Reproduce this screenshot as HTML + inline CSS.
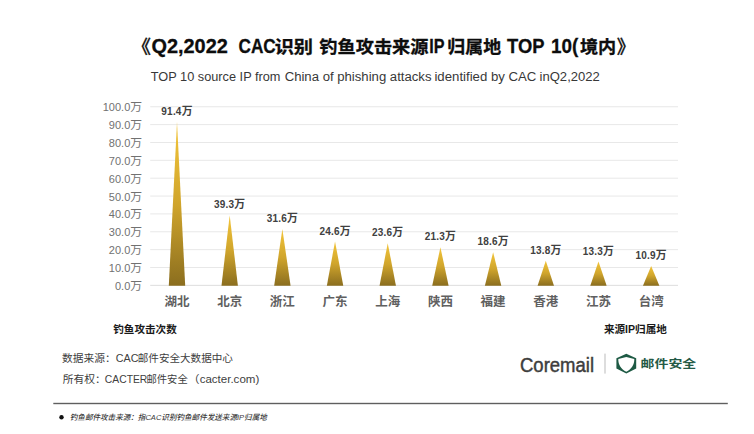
<!DOCTYPE html>
<html><head><meta charset="utf-8">
<style>
html,body{margin:0;padding:0;background:#fff;}
body{width:754px;height:434px;overflow:hidden;position:relative;}
svg{position:absolute;left:0;top:0;}
text{font-family:"Liberation Sans","Noto Sans CJK SC",sans-serif;white-space:pre;}
.t{fill:#0d0d0d;stroke:#0d0d0d;stroke-width:0.3px;}
.st{fill:#383838;}
.yl{font-size:11px;fill:#717171;}
.yw{font-size:11.8px;}
.vl{font-size:10px;font-weight:bold;fill:#404040;letter-spacing:0.2px;}
.vw{font-size:10.8px;}
.xl{font-size:12.5px;font-weight:bold;fill:#606060;}
.ax{font-size:10.5px;font-weight:bold;fill:#1a1a1a;}
.src{fill:#404040;}
.cm{font-size:20px;fill:#3d3d3d;stroke:#3d3d3d;stroke-width:0.45px;}
.yj{font-size:13.4px;font-weight:bold;fill:#245a46;}
.nt{font-size:7.7px;font-style:italic;font-weight:500;fill:#3a3a3a;}
</style></head><body>
<svg width="754" height="434" viewBox="0 0 754 434">
<defs>
<linearGradient id="g" x1="0" y1="0" x2="0" y2="1">
<stop offset="0" stop-color="#f3c53a"/>
<stop offset="0.5" stop-color="#d0a52c"/>
<stop offset="1" stop-color="#8b6e1f"/>
</linearGradient>
</defs>
<text x="131.72" y="52.6" style="font-size:18.5px;font-weight:500" class="t" textLength="19.21" lengthAdjust="spacingAndGlyphs">《</text>
<text x="151.43" y="52.6" style="font-size:20.5px;font-weight:bold" class="t" textLength="76.41" lengthAdjust="spacingAndGlyphs">Q2,2022</text>
<text x="238.46" y="52.6" style="font-size:20.5px;font-weight:bold" class="t" textLength="37.29" lengthAdjust="spacingAndGlyphs">CAC</text>
<text x="274.70" y="52.6" style="font-size:17.4px;font-weight:bold" class="t" textLength="38.38" lengthAdjust="spacingAndGlyphs">识别</text>
<text x="319.30" y="52.6" style="font-size:17.4px;font-weight:bold" class="t" textLength="109.18" lengthAdjust="spacingAndGlyphs">钓鱼攻击来源</text>
<text x="429.31" y="52.6" style="font-size:20.5px;font-weight:bold" class="t" textLength="15.28" lengthAdjust="spacingAndGlyphs">IP</text>
<text x="447.37" y="52.6" style="font-size:17.4px;font-weight:bold" class="t" textLength="53.72" lengthAdjust="spacingAndGlyphs">归属地</text>
<text x="507.00" y="52.6" style="font-size:20.5px;font-weight:bold" class="t" textLength="37.40" lengthAdjust="spacingAndGlyphs">TOP</text>
<text x="551.08" y="52.6" style="font-size:20.5px;font-weight:bold" class="t" textLength="27.29" lengthAdjust="spacingAndGlyphs">10(</text>
<text x="579.96" y="52.6" style="font-size:17.4px;font-weight:bold" class="t" textLength="36.27" lengthAdjust="spacingAndGlyphs">境内</text>
<text x="616.69" y="52.6" style="font-size:18.5px;font-weight:500" class="t" textLength="18.75" lengthAdjust="spacingAndGlyphs">》</text>
<text x="150.80" y="81.3" style="font-size:12.5px" class="st" textLength="129.66" lengthAdjust="spacingAndGlyphs">TOP 10 source IP from</text>
<text x="284.65" y="81.3" style="font-size:12.5px" class="st" textLength="146.86" lengthAdjust="spacingAndGlyphs">China of phishing attacks</text>
<text x="434.44" y="81.3" style="font-size:12.5px" class="st" textLength="101.97" lengthAdjust="spacingAndGlyphs">identified by CAC</text>
<text x="539.56" y="81.3" style="font-size:12.5px" class="st" textLength="60.26" lengthAdjust="spacingAndGlyphs">inQ2,2022</text>
<rect x="150.2" y="284.85" width="527.80" height="1" fill="#dedede"/>
<rect x="150.2" y="266.99" width="527.80" height="1" fill="#e8e8e8"/>
<rect x="150.2" y="249.13" width="527.80" height="1" fill="#e8e8e8"/>
<rect x="150.2" y="231.27" width="527.80" height="1" fill="#e8e8e8"/>
<rect x="150.2" y="213.41" width="527.80" height="1" fill="#e8e8e8"/>
<rect x="150.2" y="195.55" width="527.80" height="1" fill="#e8e8e8"/>
<rect x="150.2" y="177.69" width="527.80" height="1" fill="#e8e8e8"/>
<rect x="150.2" y="159.83" width="527.80" height="1" fill="#e8e8e8"/>
<rect x="150.2" y="141.97" width="527.80" height="1" fill="#e8e8e8"/>
<rect x="150.2" y="124.11" width="527.80" height="1" fill="#e8e8e8"/>
<rect x="150.2" y="106.25" width="527.80" height="1" fill="#e8e8e8"/>
<text x="142.1" y="289.85" class="yl" text-anchor="end">0.0<tspan class="yw">万</tspan></text>
<text x="142.1" y="271.99" class="yl" text-anchor="end">10.0<tspan class="yw">万</tspan></text>
<text x="142.1" y="254.13" class="yl" text-anchor="end">20.0<tspan class="yw">万</tspan></text>
<text x="142.1" y="236.27" class="yl" text-anchor="end">30.0<tspan class="yw">万</tspan></text>
<text x="142.1" y="218.41" class="yl" text-anchor="end">40.0<tspan class="yw">万</tspan></text>
<text x="142.1" y="200.55" class="yl" text-anchor="end">50.0<tspan class="yw">万</tspan></text>
<text x="142.1" y="182.69" class="yl" text-anchor="end">60.0<tspan class="yw">万</tspan></text>
<text x="142.1" y="164.83" class="yl" text-anchor="end">70.0<tspan class="yw">万</tspan></text>
<text x="142.1" y="146.97" class="yl" text-anchor="end">80.0<tspan class="yw">万</tspan></text>
<text x="142.1" y="129.11" class="yl" text-anchor="end">90.0<tspan class="yw">万</tspan></text>
<text x="142.1" y="111.25" class="yl" text-anchor="end">100.0<tspan class="yw">万</tspan></text>
<polygon points="168.80,285.65 177.00,122.11 185.20,285.65" fill="url(#g)"/>
<text x="177.00" y="115.21" class="vl" text-anchor="middle">91.4<tspan class="vw">万</tspan></text>
<text x="177.00" y="305.9" class="xl" text-anchor="middle">湖北</text>
<polygon points="221.49,285.65 229.69,215.16 237.89,285.65" fill="url(#g)"/>
<text x="229.69" y="208.26" class="vl" text-anchor="middle">39.3<tspan class="vw">万</tspan></text>
<text x="229.69" y="305.9" class="xl" text-anchor="middle">北京</text>
<polygon points="274.17,285.65 282.37,228.91 290.57,285.65" fill="url(#g)"/>
<text x="282.37" y="222.01" class="vl" text-anchor="middle">31.6<tspan class="vw">万</tspan></text>
<text x="282.37" y="305.9" class="xl" text-anchor="middle">浙江</text>
<polygon points="326.85,285.65 335.05,241.41 343.25,285.65" fill="url(#g)"/>
<text x="335.05" y="234.51" class="vl" text-anchor="middle">24.6<tspan class="vw">万</tspan></text>
<text x="335.05" y="305.9" class="xl" text-anchor="middle">广东</text>
<polygon points="379.54,285.65 387.74,243.20 395.94,285.65" fill="url(#g)"/>
<text x="387.74" y="236.30" class="vl" text-anchor="middle">23.6<tspan class="vw">万</tspan></text>
<text x="387.74" y="305.9" class="xl" text-anchor="middle">上海</text>
<polygon points="432.22,285.65 440.42,247.31 448.62,285.65" fill="url(#g)"/>
<text x="440.42" y="240.41" class="vl" text-anchor="middle">21.3<tspan class="vw">万</tspan></text>
<text x="440.42" y="305.9" class="xl" text-anchor="middle">陕西</text>
<polygon points="484.91,285.65 493.11,252.13 501.31,285.65" fill="url(#g)"/>
<text x="493.11" y="245.23" class="vl" text-anchor="middle">18.6<tspan class="vw">万</tspan></text>
<text x="493.11" y="305.9" class="xl" text-anchor="middle">福建</text>
<polygon points="537.59,285.65 545.79,260.70 553.99,285.65" fill="url(#g)"/>
<text x="545.79" y="253.80" class="vl" text-anchor="middle">13.8<tspan class="vw">万</tspan></text>
<text x="545.79" y="305.9" class="xl" text-anchor="middle">香港</text>
<polygon points="590.27,285.65 598.47,261.60 606.67,285.65" fill="url(#g)"/>
<text x="598.47" y="254.70" class="vl" text-anchor="middle">13.3<tspan class="vw">万</tspan></text>
<text x="598.47" y="305.9" class="xl" text-anchor="middle">江苏</text>
<polygon points="642.96,285.65 651.16,265.88 659.36,285.65" fill="url(#g)"/>
<text x="651.16" y="258.98" class="vl" text-anchor="middle">10.9<tspan class="vw">万</tspan></text>
<text x="651.16" y="305.9" class="xl" text-anchor="middle">台湾</text>
<text x="113.3" y="333" class="ax" textLength="63.4" lengthAdjust="spacingAndGlyphs">钓鱼攻击次数</text>
<text x="603.9" y="333" class="ax" textLength="63" lengthAdjust="spacingAndGlyphs">来源IP归属地</text>
<text x="61.98" y="362.0" style="font-size:10.5px" class="src" textLength="53.67" lengthAdjust="spacingAndGlyphs">数据来源：</text>
<text x="115.72" y="362.0" style="font-size:11px" class="src" textLength="22.71" lengthAdjust="spacingAndGlyphs">CAC</text>
<text x="137.79" y="362.0" style="font-size:10.5px" class="src" textLength="95.11" lengthAdjust="spacingAndGlyphs">邮件安全大数据中心</text>
<text x="62.80" y="383.1" style="font-size:10.5px" class="src" textLength="43.08" lengthAdjust="spacingAndGlyphs">所有权：</text>
<text x="104.86" y="383.1" style="font-size:11px" class="src" textLength="42.46" lengthAdjust="spacingAndGlyphs">CACTER</text>
<text x="146.52" y="383.1" style="font-size:10.5px" class="src" textLength="41.18" lengthAdjust="spacingAndGlyphs">邮件安全</text>
<text x="188.11" y="383.1" style="font-size:10.5px" class="src" textLength="71.13" lengthAdjust="spacingAndGlyphs">（cacter.com)</text>
<text x="520" y="371.9" class="cm" textLength="74" lengthAdjust="spacingAndGlyphs">Coremail</text>
<rect x="604.3" y="353.6" width="1.4" height="20" fill="#cfcfcf"/>
<path d="M626.3,353.7 L636.2,358.3 L636.2,368.4 L626.3,373.4 L616.4,368.4 L616.4,358.3 Z M618.3,359 L626.3,357.0 L634.3,359 C634.5,364.5 631.5,369 626.3,371.8 C621.1,369 618.1,364.5 618.3,359 Z" fill="#1e5a44" fill-rule="evenodd"/>
<text x="0" y="0" transform="translate(640.6 368.3) scale(1 0.86)" class="yj" textLength="55.6" lengthAdjust="spacingAndGlyphs">邮件安全</text>
<rect x="53.3" y="402.8" width="674.5" height="1.4" fill="#5f5f5f"/>
<circle cx="61.5" cy="417.3" r="2.2" fill="#111"/>
<text x="69.8" y="420" class="nt" textLength="197" lengthAdjust="spacingAndGlyphs">钓鱼邮件攻击来源：指CAC识别钓鱼邮件发送来源IP归属地</text>
</svg>
</body></html>
